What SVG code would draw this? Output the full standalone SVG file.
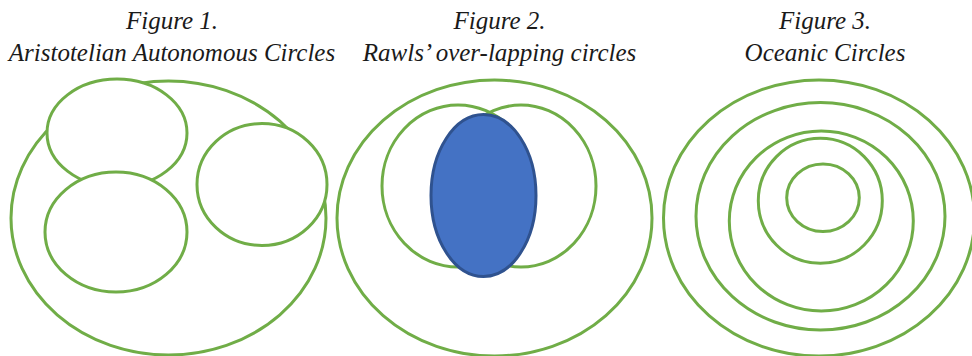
<svg xmlns="http://www.w3.org/2000/svg" width="972" height="356" viewBox="0 0 972 356">
<style>
.t{font-family:"Liberation Serif","Times New Roman",serif;font-style:italic;font-size:25px;fill:#1a1a1a;text-anchor:middle}
.g{fill:none;stroke:#70AD47;stroke-width:3}
.gw{fill:#ffffff;stroke:#70AD47;stroke-width:3}
.b{fill:#4472C4;stroke:#2F528F;stroke-width:3}
</style>
<rect width="972" height="356" fill="#ffffff"/>
<g id="fig1">
<text class="t" x="172" y="29">Figure 1.</text>
<text class="t" x="172" y="61">Aristotelian Autonomous Circles</text>
<ellipse class="g" cx="168.5" cy="218" rx="157.5" ry="137"/>
<ellipse class="gw" cx="117" cy="133" rx="70" ry="54"/>
<ellipse class="gw" cx="116" cy="232" rx="71" ry="60"/>
<ellipse class="gw" cx="262" cy="184.5" rx="65" ry="61"/>
</g>
<g id="fig2">
<text class="t" x="499.5" y="29">Figure 2.</text>
<text class="t" x="499.5" y="61">Rawls’ over-lapping circles</text>
<ellipse class="g" cx="494.5" cy="218" rx="157.5" ry="138"/>
<ellipse class="g" cx="458" cy="186" rx="76" ry="81"/>
<ellipse class="g" cx="521" cy="186" rx="75" ry="81"/>
<ellipse class="b" cx="483.5" cy="195.5" rx="52.5" ry="81"/>
</g>
<g id="fig3">
<text class="t" x="825" y="29">Figure 3.</text>
<text class="t" x="825" y="61">Oceanic Circles</text>
<ellipse class="g" cx="819" cy="218" rx="155.5" ry="138"/>
<ellipse class="g" cx="820.5" cy="216.3" rx="124.5" ry="113.7"/>
<ellipse class="g" cx="821.3" cy="221" rx="92" ry="90"/>
<ellipse class="g" cx="820.3" cy="200.8" rx="62" ry="62.5"/>
<ellipse class="g" cx="823" cy="197.8" rx="36.3" ry="33.8"/>
</g>
<g id="connectors"></g>
</svg>
